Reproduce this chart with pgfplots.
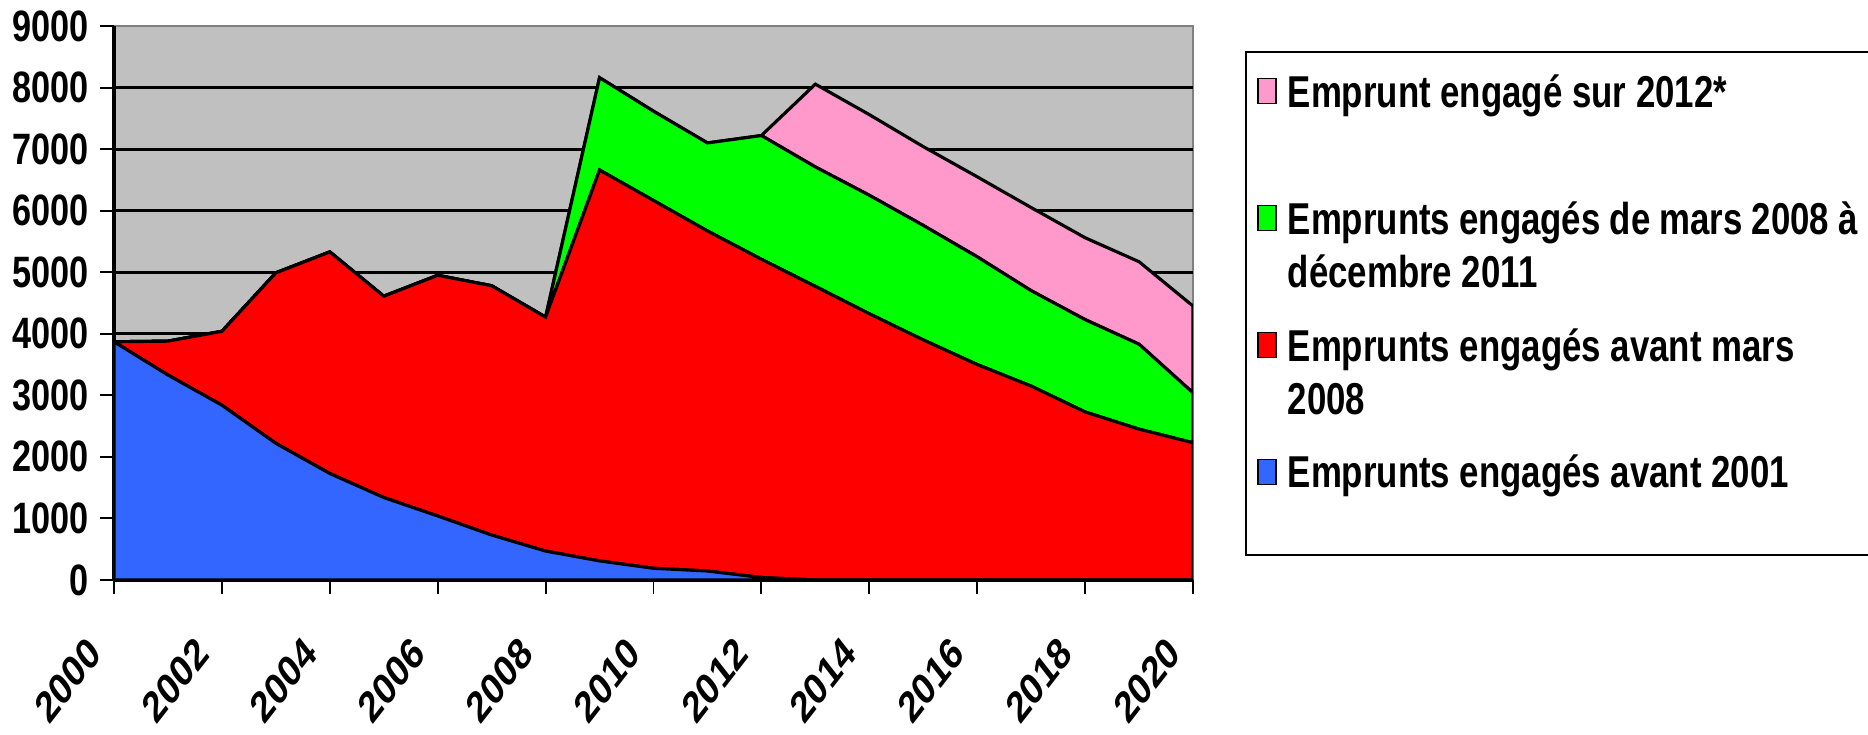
\documentclass[border=0pt]{standalone}
\usepackage{fontspec}
\setmainfont{Liberation Sans}[FakeStretch=0.78]
\newfontfamily\widefont{Liberation Sans}
\usepackage{pgfplots}
\usepackage{pgfplotstable}
\pgfplotsset{compat=1.18}
\definecolor{cBlue}{HTML}{3366FF}
\definecolor{cRed}{HTML}{FF0000}
\definecolor{cGreen}{HTML}{00FF00}
\definecolor{cPink}{HTML}{FF99CC}
\definecolor{cBg}{HTML}{C0C0C0}
\definecolor{cBorder}{HTML}{808080}
\newcommand\LEone[2]{\parbox[t]{5.7cm}{\rule[-#1]{0pt}{\dimexpr #1+0.4cm\relax}#2}}
\newcommand\LEtwo[2]{\parbox[t]{5.7cm}{\rule{0pt}{0.4cm}#1\\#2\rule[-0.12cm]{0pt}{0.12cm}}}
\pgfplotstableread{
year blue red green pink
2000 3870 0 0 0
2001 3330 550 0 0
2002 2840 1200 0 0
2003 2220 2770 0 0
2004 1730 3600 0 0
2005 1340 3270 0 0
2006 1040 3910 0 0
2007 730 4050 0 0
2008 470 3800 0 0
2009 310 6350 1500 0
2010 190 5975 1450 0
2011 146 5524 1430 0
2012 40 5170 2010 0
2013 0 4770 1940 1345
2014 0 4325 1925 1310
2015 0 3900 1860 1280
2016 0 3500 1750 1300
2017 0 3150 1550 1350
2018 0 2730 1500 1330
2019 0 2450 1380 1340
2020 0 2230 810 1410
}\data
\begin{document}
\begin{tikzpicture}
\begin{axis}[
  scale only axis, width=10.79cm, height=5.54cm,
  xmin=2000, xmax=2020, ymin=0, ymax=9000,
  stack plots=y,
  axis background/.style={fill=cBg, draw=cBorder, line width=0.6pt},
  axis x line*=bottom, axis y line*=left,
  axis line style={-, black, line width=0.9pt},
  xtick={2000,2002,...,2020},
  xticklabels={2000,2002,2004,2006,2008,2010,2012,2014,2016,2018,2020},
  minor x tick num=1,
  ytick={0,1000,...,9000},
  extra y ticks={1000,2000,...,8000},
  extra y tick labels={},
  extra y tick style={ymajorgrids=true, major tick length=0pt},
  major grid style={black, line width=0.85pt},
  tick align=outside,
  major tick length=0.14cm, minor tick length=0.14cm,
  xtick pos=lower, ytick pos=left,
  x tick style={black, line width=0.55pt},
  y tick style={black, line width=0.55pt},
  /pgf/number format/assume math mode=true,
  /pgf/number format/1000 sep={},
  yticklabel style={font=\bfseries\fontsize{12.5}{15}\selectfont, anchor=east, inner sep=0pt, xshift=-0.11cm},
  xticklabel style={font=\widefont\bfseries\fontsize{12.5}{15}\selectfont, inner sep=0pt,
     xshift=-0.19cm, yshift=-0.51cm, xscale=0.78, rotate=45, anchor=east},
  reverse legend,
  legend style={at={(1,1)}, anchor=north west, xshift=0.52cm, yshift=-0.25cm,
    draw=black, line width=0.6pt, fill=white,
    inner xsep=0.11cm, inner ysep=0.15cm, row sep=0.219cm, column sep=0.11cm,
    font=\bfseries\fontsize{12.7}{15.1}\selectfont,
    nodes={inner sep=0pt, text depth={}, text height={}}, cells={anchor=base west}},
  legend image code/.code={\draw[#1, draw=black, line width=0.5pt] (0cm,0.035cm) rectangle (0.18cm,0.285cm);},
]
\addplot[fill=cBlue, draw=black, line width=0.9pt] table[x=year, y=blue]{\data} \closedcycle;
\addlegendentry{\LEone{0.52cm}{Emprunts engagés avant 2001}}
\addplot[fill=cRed, draw=black, line width=0.9pt] table[x=year, y=red]{\data} \closedcycle;
\addlegendentry{\LEtwo{Emprunts engagés avant mars}{2008}}
\addplot[fill=cGreen, draw=black, line width=0.9pt] table[x=year, y=green]{\data} \closedcycle;
\addlegendentry{\LEtwo{Emprunts engagés de mars 2008 à}{décembre 2011}}
\addplot[fill=cPink, draw=black, line width=0.9pt] table[x=year, y=pink]{\data} \closedcycle;
\addlegendentry{\LEone{0.651cm}{Emprunt engagé sur 2012*}}
\coordinate (BL) at (rel axis cs:0,0);
\coordinate (TR) at (rel axis cs:1,1);
\end{axis}
\pgfresetboundingbox
\path ([shift={(-1.14cm,-1.55cm)}]BL) rectangle ([shift={(6.75cm,0.26cm)}]TR);
\end{tikzpicture}
\end{document}
